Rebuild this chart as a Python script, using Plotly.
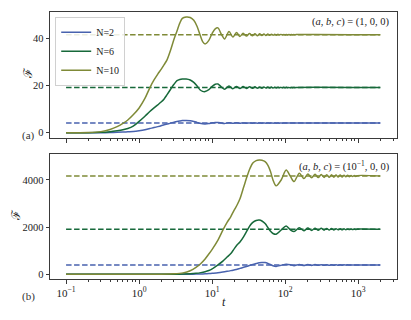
import plotly.graph_objects as go

# --- data: panel (a), (a,b,c) = (1,0,0) ---
t_a = [0.1, 0.2, 0.3, 0.4, 0.5, 0.6, 0.7, 0.83, 1.0, 1.2,
       1.4, 1.6, 1.8, 2.0, 2.2, 2.4, 2.7, 3.0, 3.3, 3.6,
       3.9, 4.4, 5.0, 5.6, 6.2, 6.8, 7.4, 8.0, 9.0, 10.0,
       11.0, 12.0, 13.4, 14.8, 17.0, 19.2, 21.5, 24.0, 26.5, 29.5,
       32.5, 35.5, 38.5, 41.6, 44.7, 47.9, 51.1, 54.4, 57.8, 61.2,
       64.7, 68.3, 71.9, 75.6, 79.4, 83.3, 87.2, 91.2, 95.3, 99.5,
       103.8, 108, 112.5, 117, 121.5, 126, 131, 136, 141, 2000]
F_a2 = [0, 0, 0.05, 0.1, 0.2, 0.3, 0.45, 0.6, 0.9, 1.3,
        1.8, 2.2, 2.6, 3.0, 3.4, 3.7, 4.1, 4.5, 4.8, 5.0,
        5.15, 5.2, 5.1, 4.8, 4.4, 4.0, 3.8, 3.75, 3.9, 4.2,
        4.35, 4.35, 4.1, 3.95, 4.25, 4.0, 4.2, 4.02, 4.18, 4.04,
        4.16, 4.05, 4.15, 4.06, 4.14, 4.06, 4.14, 4.07, 4.13, 4.07,
        4.13, 4.08, 4.12, 4.08, 4.12, 4.08, 4.12, 4.08, 4.12, 4.09,
        4.11, 4.09, 4.11, 4.09, 4.11, 4.09, 4.11, 4.09, 4.11, 4.1]
F_a6 = [0, 0.05, 0.2, 0.5, 0.9, 1.3, 1.8, 2.8, 4.8, 7.0,
        9.0, 10.5, 11.8, 13.0, 14.3, 16.0, 18.4, 20.5, 22.0, 22.5,
        22.7, 22.7, 22.3, 21.3, 19.8, 18.2, 17.5, 17.4, 18.2, 19.6,
        20.5, 20.6, 19.3, 18.4, 19.8, 18.6, 19.6, 18.7, 19.5, 18.75,
        19.45, 18.8, 19.4, 18.85, 19.35, 18.85, 19.35, 18.9, 19.3, 18.9,
        19.3, 18.95, 19.25, 18.95, 19.25, 19.0, 19.2, 19.0, 19.2, 19.0,
        19.2, 19.02, 19.18, 19.02, 19.18, 19.05, 19.15, 19.05, 19.15, 19.1]
F_a10 = [0, 0.1, 0.5, 1.4, 2.6, 4.0, 5.4, 7.6, 10.5, 14.5,
         19.0, 22.3, 24.8, 26.8, 28.8, 30.7, 35.0, 39.5, 43.0, 46.3,
         48.3, 48.9, 48.7, 47.5, 45.0, 41.5, 38.5, 37.5, 39.0, 42.0,
         43.9, 44.3, 41.5, 39.6, 42.8, 40.4, 42.3, 40.7, 42.0, 40.85,
         41.9, 40.95, 41.85, 41.0, 41.8, 41.05, 41.75, 41.1, 41.7, 41.15,
         41.65, 41.2, 41.6, 41.2, 41.6, 41.25, 41.55, 41.25, 41.55, 41.3,
         41.5, 41.3, 41.5, 41.3, 41.5, 41.35, 41.45, 41.35, 41.45, 41.4]
eq_a = [4.1, 19.1, 41.4]

# --- data: panel (b), (a,b,c) = (10^-1,0,0) ---
t_b = [0.1, 1, 2, 3, 4, 5, 6, 7, 8, 9,
       10, 12, 14, 16, 18, 20, 22, 24, 27, 30,
       33, 36, 40, 44, 48, 53, 58, 63, 68, 75,
       88, 103, 118, 132, 156, 180, 204, 230, 256, 283,
       311, 340, 370, 400, 431, 463, 496, 530, 565, 601,
       638, 676, 715, 755, 796, 838, 881, 925, 970, 2000]
F_b2 = [0, 0, 0, 1, 2, 4, 7, 12, 20, 30,
        42, 65, 95, 125, 155, 185, 215, 250, 295, 340,
        380, 420, 455, 485, 500, 495, 460, 410, 360, 335,
        380, 430, 405, 365, 420, 372, 414, 377, 411, 380,
        408, 383, 406, 385, 404, 386, 402, 387, 401, 388,
        400, 389, 399, 390, 398, 391, 397, 392, 396, 394]
F_b6 = [0, 0, 1, 4, 10, 20, 40, 70, 110, 160,
        230, 400, 560, 730, 880, 1080, 1250, 1370, 1600, 1850,
        2070, 2200, 2280, 2300, 2260, 2150, 1980, 1820, 1730, 1700,
        1880, 2050, 1880, 1810, 1975, 1850, 1960, 1860, 1955, 1865,
        1950, 1870, 1945, 1875, 1940, 1880, 1935, 1885, 1930, 1890,
        1926, 1892, 1923, 1895, 1920, 1897, 1918, 1899, 1916, 1908]
F_b10 = [0, 0, 5, 20, 60, 150, 290, 460, 650, 860,
         1060, 1450, 1870, 2200, 2450, 2720, 2950, 3200, 3700, 4150,
         4500, 4720, 4820, 4850, 4840, 4780, 4620, 4350, 4000, 3750,
         4000, 4420, 4150, 3930, 4290, 4060, 4250, 4090, 4240, 4100,
         4235, 4110, 4225, 4115, 4220, 4120, 4215, 4125, 4210, 4130,
         4205, 4135, 4200, 4140, 4195, 4145, 4190, 4150, 4185, 4170]
eq_b = [394, 1908, 4170]

names = ["N=2", "N=6", "N=10"]
colors = ["#4862ae", "#17693a", "#7f8a37"]
t_span = [0.1, 2000]

xticks = [0.1, 1, 10, 100, 1000]
xtick_text = ["10<sup>−1</sup>", "10<sup>0</sup>", "10<sup>1</sup>", "10<sup>2</sup>", "10<sup>3</sup>"]
minor_ticks = [m * 10 ** e for e in range(-1, 4) for m in range(2, 10)]

serif = "Liberation Serif"
axcol = "#3a3a3a"

fig = go.Figure()

panels = [
    ("x", "y", t_a, [F_a2, F_a6, F_a10], eq_a, True),
    ("x2", "y2", t_b, [F_b2, F_b6, F_b10], eq_b, False),
]
for xa, ya, t, series, eq, legend in panels:
    for i in range(3):
        fig.add_trace(go.Scatter(
            x=t_span, y=[eq[i], eq[i]], xaxis=xa, yaxis=ya, mode="lines",
            line=dict(color=colors[i], width=1.5, dash="5.5px,2.5px"),
            showlegend=False, hoverinfo="skip"
        ))
    for i in range(3):
        fig.add_trace(go.Scatter(
            x=t, y=series[i], xaxis=xa, yaxis=ya, mode="lines",
            name=names[i], showlegend=legend,
            line=dict(color=colors[i], width=1.5, shape="spline", smoothing=0.8)
        ))

xaxis_common = dict(
    type="log", range=[-1.22, 3.53],
    tickvals=xticks, ticktext=xtick_text,
    ticks="outside", ticklen=3.5, tickwidth=1, tickcolor=axcol,
    minor=dict(tickvals=minor_ticks, ticks="outside", ticklen=2, tickwidth=0.8, tickcolor=axcol),
    showline=True, linecolor=axcol, linewidth=1, mirror=True,
    showgrid=False, zeroline=False, automargin=False,
    tickfont=dict(family=serif, size=11, color="#222"),
)
yaxis_common = dict(
    ticks="outside", ticklen=3.5, tickwidth=1, tickcolor=axcol,
    showline=True, linecolor=axcol, linewidth=1, mirror=True,
    showgrid=False, zeroline=False, automargin=False,
    tickfont=dict(family=serif, size=10.5, color="#222"),
)


def label(text, x, y, size=11, family=serif, angle=0, color="#222"):
    return dict(text=text, xref="paper", yref="paper", x=x, y=y,
                xanchor="center", yanchor="middle", textangle=angle, showarrow=False,
                font=dict(family=family, size=size, color=color))


fig.update_layout(
    width=411, height=320,
    margin=dict(l=50, r=14, t=12, b=41),
    plot_bgcolor="white", paper_bgcolor="white",
    xaxis=dict(xaxis_common, anchor="y", showticklabels=False),
    xaxis2=dict(xaxis_common, anchor="y2", matches="x"),
    yaxis=dict(yaxis_common, domain=[0.528, 1.0], anchor="x",
               range=[-2.2, 51], tickvals=[0, 20, 40]),
    yaxis2=dict(yaxis_common, domain=[0.0, 0.468], anchor="x2",
                range=[-200, 5100], tickvals=[0, 2000, 4000]),
    showlegend=True,
    legend=dict(x=0.015, y=0.982, xanchor="left", yanchor="top",
                bgcolor="rgba(255,255,255,0.85)", bordercolor="#d0d0d0", borderwidth=1,
                font=dict(family=serif, size=10, color="#222"),
                itemwidth=30, tracegroupgap=0),
    annotations=[
        dict(text="(<i>a</i>, <i>b</i>, <i>c</i>) = (1, 0, 0)", xref="paper", yref="paper",
             x=0.986, y=0.962, xanchor="right", yanchor="middle", showarrow=False,
             font=dict(family=serif, size=10.5, color="#222")),
        dict(text="(<i>a</i>, <i>b</i>, <i>c</i>) = (10<sup>−1</sup>, 0, 0)", xref="paper", yref="paper",
             x=0.986, y=0.425, xanchor="right", yanchor="middle", showarrow=False,
             font=dict(family=serif, size=10.5, color="#222")),
        label("ℱ", -0.063, 0.772, size=12, family="DejaVu Serif", angle=-90),
        label("ℱ", -0.098, 0.24, size=12, family="DejaVu Serif", angle=-90),
        label("(a)", -0.063, 0.539, color="#333"),
        label("(b)", -0.063, -0.067, color="#333"),
        label("<i>t</i>", 0.5, -0.086, size=12),
    ],
)

fig.write_html("out.html", config={"displayModeBar": False},
               post_script="document.body.style.margin='0';document.body.style.overflow='hidden';")
